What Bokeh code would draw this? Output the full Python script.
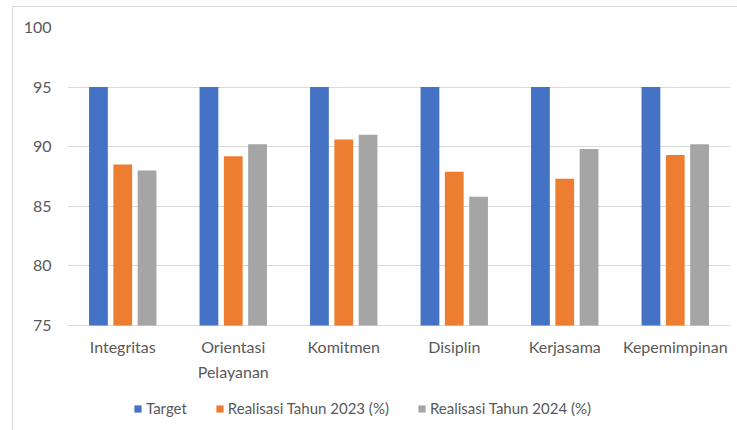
from bokeh.plotting import figure
from bokeh.models import ColumnDataSource, Legend, LegendItem, FactorRange
from bokeh.core.properties import value
from bokeh.transform import dodge
from bokeh.embed import file_html
from bokeh.resources import INLINE

categories = ["Integritas", "Orientasi\nPelayanan", "Komitmen", "Disiplin", "Kerjasama", "Kepemimpinan"]
target = [95, 95, 95, 95, 95, 95]
real_2023 = [88.5, 89.2, 90.6, 87.9, 87.3, 89.3]
real_2024 = [88.0, 90.2, 91.0, 85.8, 89.8, 90.2]
series_names = ["Target", "Realisasi Tahun 2023 (%)", "Realisasi Tahun 2024 (%)"]
colors = ["#4472C4", "#ED7D31", "#A5A5A5"]
y_ticks = [75, 80, 85, 90, 95, 100]
y_base = 75

src = ColumnDataSource(dict(cat=categories, t=target, r23=real_2023, r24=real_2024,
                            base=[y_base] * len(categories)))

FONT = "Lato"
TXT = "#595959"

p = figure(x_range=FactorRange(*categories), y_range=(66.1, 100),
           width=725, height=424, output_backend="svg", toolbar_location=None,
           min_border_left=54, min_border_right=8, min_border_top=20, min_border_bottom=0)
p.styles = {"margin-left": "12px", "margin-top": "6px",
            "border-left": "1px solid #d9d9d9", "border-top": "1px solid #d9d9d9"}
p.outline_line_color = None
p.background_fill_color = "white"

renderers = []
for col, off, c in zip(["t", "r23", "r24"], [-0.22, 0.0, 0.22], colors):
    r = p.vbar(x=dodge("cat", off, range=p.x_range), top=col, bottom=y_base, width=0.17,
               source=src, fill_color=c, line_color=None)
    renderers.append(r)

# category labels under the baseline
p.text(x="cat", y="base", text="cat", source=src, y_offset=12,
       text_align="center", text_baseline="top", text_font=value(FONT),
       text_font_size="16px", text_color=TXT, text_line_height=1.3)

p.xaxis.visible = False
p.xgrid.grid_line_color = None
p.ygrid.grid_line_color = "#d9d9d9"
p.ygrid.grid_line_width = 1
p.yaxis.ticker = y_ticks

ax = p.yaxis[0]
ax.axis_line_color = None
ax.major_tick_line_color = None
ax.minor_tick_line_color = None
ax.major_label_text_font = FONT
ax.major_label_text_color = TXT
ax.major_label_text_font_size = "16px"
ax.major_label_standoff = 10

legend = Legend(items=[LegendItem(label=n, renderers=[r]) for n, r in zip(series_names, renderers)],
                orientation="horizontal", location=(66, 14),
                label_text_font=FONT, label_text_color=TXT, label_text_font_size="15px",
                glyph_width=9, glyph_height=9, spacing=28, label_standoff=4,
                border_line_color=None, background_fill_alpha=0, margin=0, padding=0)
p.add_layout(legend, "center")

open("out.html", "w").write(file_html(p, INLINE))
